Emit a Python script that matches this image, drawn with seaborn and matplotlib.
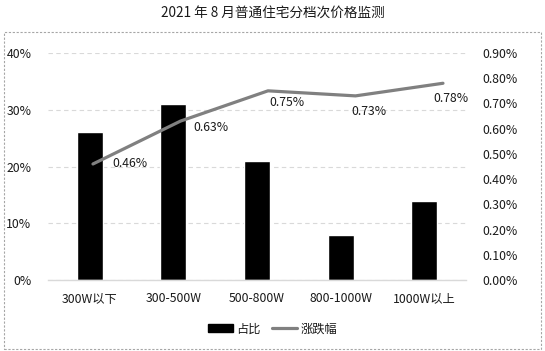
import matplotlib
matplotlib.use("Agg")
import matplotlib.pyplot as plt
import matplotlib.patches as mpatches
from matplotlib.lines import Line2D
import seaborn as sns
import numpy as np
import pandas as pd

# data
categories = ["300W以下", "300-500W", "500-800W", "800-1000W", "1000W以上"]
share = [26, 31, 21, 8, 14]              # 占比 (%)
change = [0.46, 0.63, 0.75, 0.73, 0.78]  # 涨跌幅 (%)
left_ticks = [0, 10, 20, 30, 40]
right_ticks = [0, 0.1, 0.2, 0.3, 0.4, 0.5, 0.6, 0.7, 0.8, 0.9]

# label nudges (pixels, right / down) to match hand-placed labels
label_dx = [19, 13, 1, -4, -10]
label_dy = [0, 6, 12, 16, 15]

sns.set_theme(style="white")
plt.rcParams["font.family"] = ["Noto Sans CJK SC", "DejaVu Sans"]
text_color = "#1a1a1a"
fs = 8.8

df = pd.DataFrame({"cat": categories, "share": share, "change": change})

fig = plt.figure(figsize=(5.45, 3.51), dpi=100)
rect = [48 / 545, 1 - 280 / 351, 418 / 545, 227 / 351]
ax = fig.add_axes(rect)

sns.barplot(data=df, x="cat", y="share", color="black", width=0.31,
            saturation=1, ax=ax, zorder=2)
ax.set_xlim(-0.5, 4.5)
ax.set_ylim(0, 40)
ax.set_yticks(left_ticks)
ax.set_yticklabels([f"{t}%" for t in left_ticks])
ax.set_xlabel("")
ax.set_ylabel("")
ax.yaxis.grid(True, color="#d9d9d9", linestyle=(0, (4, 3)), linewidth=0.8)
ax.set_axisbelow(True)
for side in ["top", "left", "right"]:
    ax.spines[side].set_visible(False)
ax.spines["bottom"].set_color("#d9d9d9")
ax.spines["bottom"].set_linewidth(1)
ax.tick_params(axis="both", length=0, labelsize=fs, colors=text_color)
ax.tick_params(axis="y", pad=12)
ax.tick_params(axis="x", pad=9)

# secondary axes: its own category spacing, as in the source chart
ax2 = fig.add_axes(rect)
ax2.patch.set_visible(False)
xs = np.arange(len(categories))
sns.lineplot(x=xs, y=change, color="#808080", linewidth=2.3, ax=ax2, zorder=3)
ax2.set_xlim(-0.514, 4.263)
ax2.set_ylim(0, 0.9)
ax2.set_xticks([])
ax2.yaxis.tick_right()
ax2.set_yticks(right_ticks)
ax2.set_yticklabels([f"{t:.2f}%" for t in right_ticks])
ax2.set_ylabel("")
for side in ["top", "left", "right", "bottom"]:
    ax2.spines[side].set_visible(False)
ax2.tick_params(axis="y", length=0, labelsize=fs, colors=text_color, pad=12)

for x, v, dx, dy in zip(xs, change, label_dx, label_dy):
    ax2.annotate(f"{v:.2f}%", (x, v), xytext=(dx * 0.72, -dy * 0.72),
                 textcoords="offset points", ha="left", va="center",
                 fontsize=fs, color=text_color)

fig.text(0.5, 1 - 13 / 351, "2021 年 8 月普通住宅分档次价格监测", ha="center",
         va="center", fontsize=9.8, color=text_color)

handles = [mpatches.Patch(color="black", label="占比"),
           Line2D([0], [0], color="#808080", linewidth=2.3, label="涨跌幅")]
fig.legend(handles=handles, loc="center", bbox_to_anchor=(0.5, 1 - 329 / 351),
           ncol=2, frameon=False, fontsize=fs, handlelength=2.05,
           handleheight=0.6, columnspacing=0.9, handletextpad=0.3,
           labelcolor=text_color)

border = mpatches.Rectangle((4 / 545, 2 / 351), 537 / 545, 317 / 351,
                            transform=fig.transFigure, fill=False,
                            edgecolor="#a6a6a6", linestyle=(0, (2, 1.5)),
                            linewidth=0.8)
fig.patches.append(border)

fig.savefig("out.png", dpi=100)
